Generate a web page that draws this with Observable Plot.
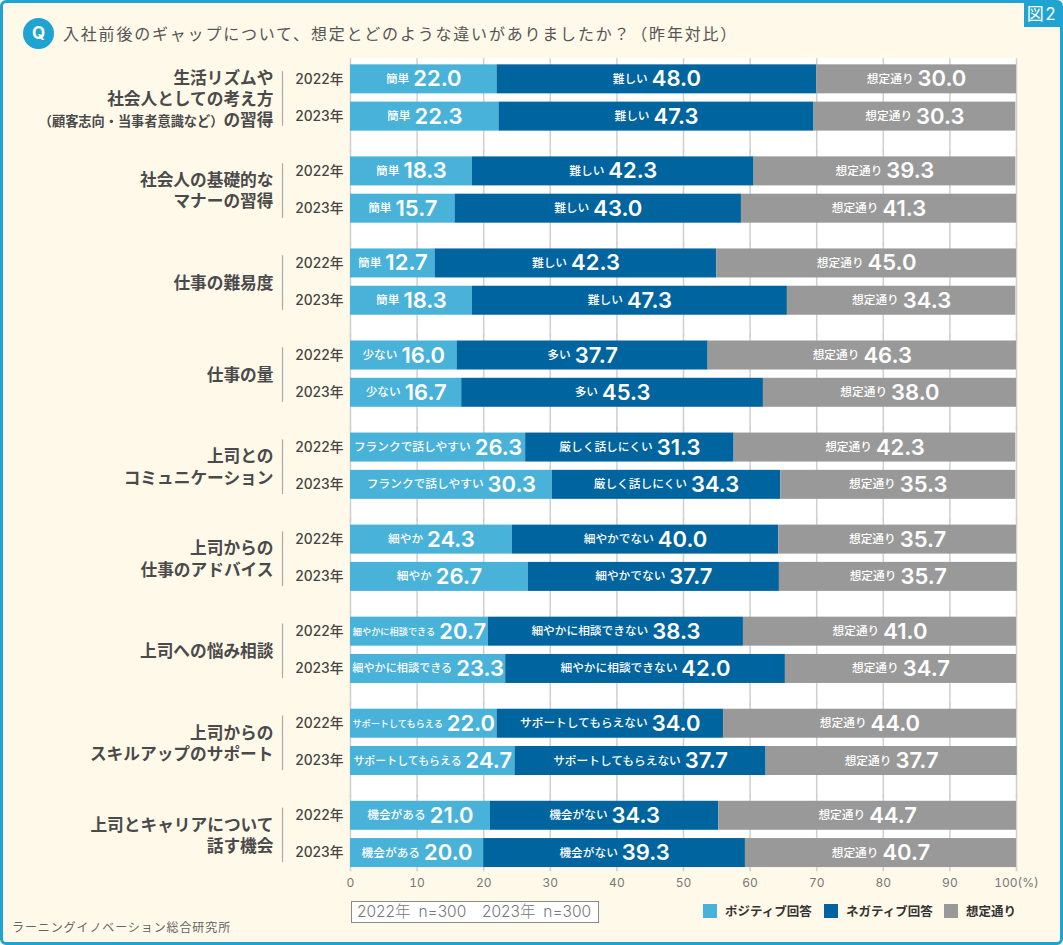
<!DOCTYPE html>
<html lang="ja">
<head>
<meta charset="utf-8">
<script src="https://cdn.jsdelivr.net/npm/d3@7"></script>
<script src="https://cdn.jsdelivr.net/npm/@observablehq/plot@0.6"></script>
<style>
html,body{margin:0;padding:0;background:#fff;}
body{font-family:"Noto Sans CJK JP",sans-serif;}
#page{position:relative;width:1063px;height:945px;background:#fff9ea;overflow:hidden;}
#border{position:absolute;inset:0;border:3px solid #1fa4d1;border-radius:6px;box-sizing:border-box;pointer-events:none;}
#head{position:relative;height:48px;}
#q{position:absolute;left:23px;top:18px;width:31px;height:31px;border-radius:50%;background:#1fa4d1;color:#fff;font:700 17px/31px Inter,sans-serif;text-align:center;z-index:1;}
#title{position:absolute;left:63px;top:22px;font-size:16px;line-height:23px;color:#555;letter-spacing:1.8px;white-space:nowrap;}
#badge{position:absolute;right:3px;top:3px;width:36px;height:24px;background:#1fa4d1;color:#fff;font:17px/23px Inter,"Noto Sans CJK JP",sans-serif;text-align:center;letter-spacing:1.5px;}
#chart svg{display:block;background:transparent;}
#foot{position:relative;height:50px;}
#n{position:absolute;left:351px;top:6px;width:241px;padding-left:5px;height:20px;box-sizing:content-box;border:1px solid #8a8a8a;background:#fff;color:#777;font:300 15.5px/20px Inter,"Noto Sans CJK JP",sans-serif;white-space:pre;text-align:left;word-spacing:3.5px;}
#src{position:absolute;left:12px;top:24px;font-size:12px;line-height:16px;color:#666;letter-spacing:.9px;}
.key{position:absolute;top:9px;font-size:12.5px;line-height:14px;font-weight:700;color:#333;white-space:nowrap;}
.key i{display:inline-block;width:14px;height:14px;margin-right:8px;vertical-align:top;}
</style>
</head>
<body>
<div id="page">
  <div id="head">
    <div id="q">Q</div>
    <div id="title">入社前後のギャップについて、想定とどのような違いがありましたか？（昨年対比）</div>
    <div id="badge">図2</div>
  </div>
  <div id="chart"></div>
  <div id="foot">
    <div id="n">2022年 n=300  2023年 n=300</div>
    <div id="src">ラーニングイノベーション総合研究所</div>
    <div id="legend"></div>
  </div>
  <div id="border"></div>
</div>
<script>
const categories = [
  "生活リズムや\n社会人としての考え方\n（顧客志向・当事者意識など）の習得",
  "社会人の基礎的な\nマナーの習得",
  "仕事の難易度",
  "仕事の量",
  "上司との\nコミュニケーション",
  "上司からの\n仕事のアドバイス",
  "上司への悩み相談",
  "上司からの\nスキルアップのサポート",
  "上司とキャリアについて\n話す機会"
];
const years = ["2022年", "2023年"];
const answerTypes = ["ポジティブ回答", "ネガティブ回答", "想定通り"];
const typeColors = ["#49b2d9", "#00649f", "#999999"];
const positiveLabels = ["簡単","簡単","簡単","少ない","フランクで話しやすい","細やか","細やかに相談できる","サポートしてもらえる","機会がある"];
const negativeLabels = ["難しい","難しい","難しい","多い","厳しく話しにくい","細やかでない","細やかに相談できない","サポートしてもらえない","機会がない"];
const neutralLabel = "想定通り";
const positive2022 = [22.0,18.3,12.7,16.0,26.3,24.3,20.7,22.0,21.0];
const negative2022 = [48.0,42.3,42.3,37.7,31.3,40.0,38.3,34.0,34.3];
const neutral2022  = [30.0,39.3,45.0,46.3,42.3,35.7,41.0,44.0,44.7];
const positive2023 = [22.3,15.7,18.3,16.7,30.3,26.7,23.3,24.7,20.0];
const negative2023 = [47.3,43.0,47.3,45.3,34.3,37.7,42.0,37.7,39.3];
const neutral2023  = [30.3,41.3,34.3,38.0,35.3,35.7,34.7,37.7,40.7];
const xTicks = [0,10,20,30,40,50,60,70,80,90,100];

const rows = [];
categories.forEach((group, i) => {
  [[positive2022, negative2022, neutral2022],[positive2023, negative2023, neutral2023]].forEach((set, y) => {
    [positiveLabels[i], negativeLabels[i], neutralLabel].forEach((name, t) => {
      rows.push({group, year: years[y], type: answerTypes[t], name, value: set[t][i]});
    });
  });
});
const gridRows = categories.flatMap(group => xTicks.map(tick => ({group, tick})));
const notLast = categories.slice(0, -1);
const lastGroup = categories.slice(-1);
const panel = (groups, o) => Plot.rect(groups, {x1:() => xTicks[0], x2:() => xTicks[xTicks.length-1], fy:d => d, fill:"#fff", ...o});

const stacked = o => Plot.stackX({x:"value", y:"year", fy:"group", z:"type", order:answerTypes, ...o});

const chart = Plot.plot({
  width: 1063,
  height: 847,
  marginLeft: 350,
  marginRight: 47,
  marginTop: 12.2,
  marginBottom: 23.8,
  style: {background:"transparent", fontFamily:'"Noto Sans CJK JP",sans-serif', overflow:"visible"},
  x: {domain:[0,100], axis:null},
  y: {domain:years, paddingInner:0.222, paddingOuter:0.111, round:false, axis:null},
  fy: {domain:categories, paddingInner:0.19, paddingOuter:0, round:false, axis:null},
  color: {domain:answerTypes, range:typeColors},
  marks: [
    panel(notLast, {insetTop:-2, insetBottom:-18}),
    panel(lastGroup, {insetTop:-2, insetBottom:4}),
    Plot.ruleX(gridRows.filter(d => d.group !== lastGroup[0]), {x:"tick", fy:"group", stroke:"#cfcfcf", strokeWidth:1.5, insetTop:-2, insetBottom:-18}),
    Plot.ruleX(gridRows.filter(d => d.group === lastGroup[0]), {x:"tick", fy:"group", stroke:"#cfcfcf", strokeWidth:1.5, insetTop:-2}),
    Plot.barX(rows, stacked({fill:"type"})),
    Plot.text(rows, stacked({text:d => `${d.name} ${d.value.toFixed(1)}`, fill:"#fff", className:"seg", fontSize:11, textAnchor:"middle"})),
    Plot.ruleX([0], {dx:-68, stroke:"#a9a9a9", strokeWidth:1.2, insetTop:11, insetBottom:9}),
    Plot.axisY({tickSize:0, tickPadding:7, label:null, fontSize:13.8, fontWeight:500, fill:"#444", fontFamily:'Inter,"Noto Sans CJK JP",sans-serif'}),
    Plot.axisFy({anchor:"left", tickSize:0, tickPadding:77, label:null, fontSize:16.7, fontWeight:700, fill:"#4a4a4a", lineHeight:1.27, className:"grp"}),
    Plot.axisX({ticks:xTicks, tickSize:0, tickPadding:7, label:null, fontSize:12, fill:"#777", tickFormat:d => d===100 ? "100(%)" : String(d), fontFamily:"Inter,sans-serif"})
  ]
});
document.getElementById("chart").appendChild(chart);

// inline rich text inside the bars: small name, large value
const xs = chart.scale("x");
d3.select(chart).selectAll("g.seg text").each(function(){
  const el = d3.select(this), parts = el.text().split(" "), nm = parts[0], val = parts[1];
  const w = xs.apply(+val) - xs.apply(0);
  const fs = Math.min(11.7, (w - 55) / nm.length);
  el.text(null).attr("font-size", null);
  el.append("tspan").attr("font-size", fs).attr("font-weight",500).text(nm);
  el.append("tspan").attr("dx", 4).attr("dy", 3.5).attr("font-size", 22).attr("font-weight",600).attr("font-family","Inter,sans-serif").text(val);
});

// smaller parenthesised note in the first group label
d3.select(chart).selectAll("g.grp text tspan").each(function(){
  const t = this.textContent;
  if (t.startsWith("（")) {
    const k = t.indexOf("）") + 1, el = d3.select(this);
    el.text(null);
    el.append("tspan").attr("font-size", 13.2).text(t.slice(0,k));
    el.append("tspan").text(t.slice(k));
  }
});

// legend
const keyLeft = [703, 824, 944];
const legend = d3.select("#legend");
answerTypes.forEach((t,i) => {
  const k = legend.append("div").attr("class","key").style("left", keyLeft[i]+"px");
  k.append("i").style("background", typeColors[i]);
  k.append("span").text(t);
});
</script>
</body>
</html>
